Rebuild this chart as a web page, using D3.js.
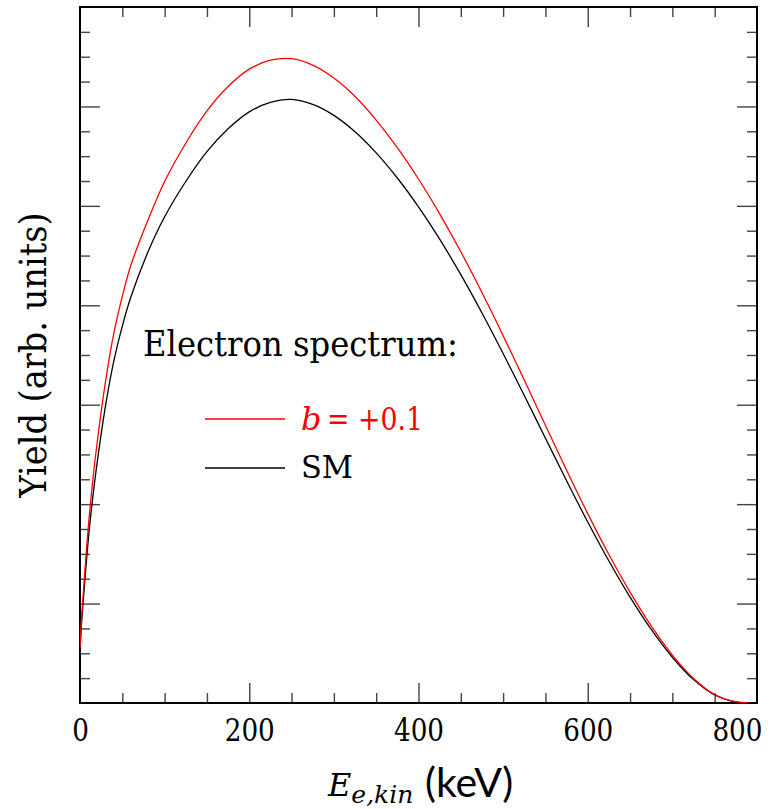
<!DOCTYPE html>
<html>
<head>
<meta charset="utf-8">
<script src="https://cdn.jsdelivr.net/npm/d3@7"></script>
</head>
<body style="margin:0">
<svg id="chart" width="770" height="809"></svg>
<script>
// ---- data ----
const energies = [0, 2, 5, 10, 15, 20, 30, 40, 50, 60, 80, 100, 125, 150, 175, 200, 225, 250, 275, 300,
                  325, 350, 375, 400, 425, 450, 475, 500, 525, 550, 575, 600, 625, 650, 675, 700, 725, 750, 770, 790];
const smYield = [0.53, 0.82, 1.15, 1.66, 2.06, 2.40, 2.98, 3.44, 3.79, 4.08, 4.53, 4.89, 5.245, 5.545, 5.775, 5.945, 6.04, 6.07, 6.02, 5.91,
                 5.745, 5.533, 5.28, 4.99, 4.665, 4.308, 3.923, 3.515, 3.093, 2.663, 2.235, 1.82, 1.428, 1.065, 0.74, 0.46, 0.235, 0.08, 0.02, 0];
const fierzYield = [0.55, 0.87, 1.24, 1.79, 2.23, 2.60, 3.225, 3.72, 4.09, 4.40, 4.85, 5.245, 5.63, 5.955, 6.20, 6.375, 6.465, 6.48, 6.415, 6.285,
                    6.10, 5.863, 5.585, 5.27, 4.92, 4.538, 4.128, 3.695, 3.248, 2.793, 2.34, 1.905, 1.493, 1.115, 0.775, 0.482, 0.247, 0.085, 0.021, 0];
const xMajorTicks = [0, 200, 400, 600, 800];
const xMinorTicks = [50, 100, 150, 250, 300, 350, 450, 500, 550, 650, 700, 750];
const yMajorTicks = [1, 2, 3, 4, 5, 6];
const yMinorTicks = [0.25, 0.5, 0.75, 1.25, 1.5, 1.75, 2.25, 2.5, 2.75, 3.25, 3.5, 3.75,
                     4.25, 4.5, 4.75, 5.25, 5.5, 5.75, 6.25, 6.5, 6.75];
const legendTitle = "Electron spectrum:";
const seriesNames = ["b", "SM"];

// ---- layout ----
const svg = d3.select("#chart");
const L = 80, R = 757, T = 7, B = 703;
const x = d3.scaleLinear().domain([0, 800]).range([L, R]);
const y = d3.scaleLinear().domain([0, 7]).range([B, T]);

const SERIF = "DejaVu Serif";
const tickColor = "#444";

function styleAxis(g) {
  g.select(".domain").remove();
  g.selectAll("line").attr("stroke", tickColor).attr("stroke-width", 1.4);
}

// minor ticks
svg.append("g").attr("transform", `translate(0,${B})`)
  .call(d3.axisBottom(x).tickValues(xMinorTicks).tickSizeInner(-10).tickSizeOuter(0).tickFormat(""))
  .call(styleAxis);
svg.append("g").attr("transform", `translate(0,${T})`)
  .call(d3.axisTop(x).tickValues(xMinorTicks).tickSizeInner(-10).tickSizeOuter(0).tickFormat(""))
  .call(styleAxis);
svg.append("g").attr("transform", `translate(${L},0)`)
  .call(d3.axisLeft(y).tickValues(yMinorTicks).tickSizeInner(-10).tickSizeOuter(0).tickFormat(""))
  .call(styleAxis);
svg.append("g").attr("transform", `translate(${R},0)`)
  .call(d3.axisRight(y).tickValues(yMinorTicks).tickSizeInner(-10).tickSizeOuter(0).tickFormat(""))
  .call(styleAxis);

// major ticks + labels
const xAxisG = svg.append("g").attr("transform", `translate(0,${B})`)
  .call(d3.axisBottom(x).tickValues(xMajorTicks).tickSizeInner(-20).tickSizeOuter(0).tickPadding(15).tickFormat(d3.format("d")))
  .call(styleAxis);
xAxisG.attr("font-family", null).attr("font-size", null);
xAxisG.selectAll("text")
  .style("font-family", SERIF)
  .attr("font-size", 32).attr("fill", "#000")
  .attr("textLength", d => String(d).length * 16.7)
  .attr("lengthAdjust", "spacingAndGlyphs");
xAxisG.selectAll(".tick").filter(d => d === 800).select("text")
  .attr("text-anchor", "end").attr("x", 5);
xAxisG.selectAll(".tick").filter(d => d === 0 || d === 800).select("line").remove();

svg.append("g").attr("transform", `translate(0,${T})`)
  .call(d3.axisTop(x).tickValues(xMajorTicks.filter(d => d > 0 && d < 800)).tickSizeInner(-20).tickSizeOuter(0).tickFormat(""))
  .call(styleAxis);
svg.append("g").attr("transform", `translate(${L},0)`)
  .call(d3.axisLeft(y).tickValues(yMajorTicks).tickSizeInner(-20).tickSizeOuter(0).tickFormat(""))
  .call(styleAxis);
svg.append("g").attr("transform", `translate(${R},0)`)
  .call(d3.axisRight(y).tickValues(yMajorTicks).tickSizeInner(-20).tickSizeOuter(0).tickFormat(""))
  .call(styleAxis);

// frame
svg.append("rect")
  .attr("x", L).attr("y", T).attr("width", R - L).attr("height", B - T)
  .attr("fill", "none").attr("stroke", "#000").attr("stroke-width", 2);

// curves
svg.append("defs").append("clipPath").attr("id", "clip")
  .append("rect").attr("x", L).attr("y", T).attr("width", R - L).attr("height", B - T);

const line = d3.line()
  .x((d, i) => x(energies[i]))
  .y(d => y(d))
  .curve(d3.curveCatmullRom.alpha(0.5));

const curves = svg.append("g").attr("clip-path", "url(#clip)");
curves.append("path").datum(smYield)
  .attr("d", line).attr("fill", "none").attr("stroke", "#000").attr("stroke-width", 1.3);
curves.append("path").datum(fierzYield)
  .attr("d", line).attr("fill", "none").attr("stroke", "#ff0000").attr("stroke-width", 1.3);

// legend
svg.append("text").attr("x", 143).attr("y", 356)
  .style("font-family", SERIF).attr("font-size", 36).attr("fill", "#000")
  .attr("textLength", 315).attr("lengthAdjust", "spacingAndGlyphs")
  .text(legendTitle);

svg.append("line").attr("x1", 205).attr("x2", 285).attr("y1", 419).attr("y2", 419)
  .attr("stroke", "#ff0000").attr("stroke-width", 1.3);
svg.append("text").attr("x", 301).attr("y", 430)
  .style("font-family", SERIF).style("font-style", "italic")
  .attr("font-size", 32).attr("fill", "#ff0000")
  .text(seriesNames[0]);
svg.append("text").attr("x", 327).attr("y", 430)
  .style("font-family", SERIF).attr("font-size", 32).attr("fill", "#ff0000")
  .attr("textLength", 96).attr("lengthAdjust", "spacingAndGlyphs")
  .text("= +0.1");

svg.append("line").attr("x1", 205).attr("x2", 285).attr("y1", 468).attr("y2", 468)
  .attr("stroke", "#000").attr("stroke-width", 1.3);
svg.append("text").attr("x", 301).attr("y", 478)
  .style("font-family", SERIF).attr("font-size", 32).attr("fill", "#000")
  .attr("textLength", 52).attr("lengthAdjust", "spacingAndGlyphs")
  .text(seriesNames[1]);

// axis titles
svg.append("text")
  .attr("transform", "translate(46,355) rotate(-90)")
  .attr("text-anchor", "middle")
  .style("font-family", SERIF).attr("font-size", 37).attr("fill", "#000")
  .attr("textLength", 285).attr("lengthAdjust", "spacingAndGlyphs")
  .text("Yield (arb. units)");

const xt = svg.append("text").attr("x", 328).attr("y", 796).attr("fill", "#000")
  .style("font-family", "DejaVu Serif");
xt.append("tspan").style("font-style", "italic").attr("font-size", 32).text("E");
xt.append("tspan").style("font-style", "italic").attr("font-size", 25).attr("dy", 7).text("e,kin");
xt.append("tspan").style("font-family", "Lato").attr("font-size", 41)
  .attr("dy", -6).attr("x", 425).text("(keV)");
</script>
</body>
</html>
